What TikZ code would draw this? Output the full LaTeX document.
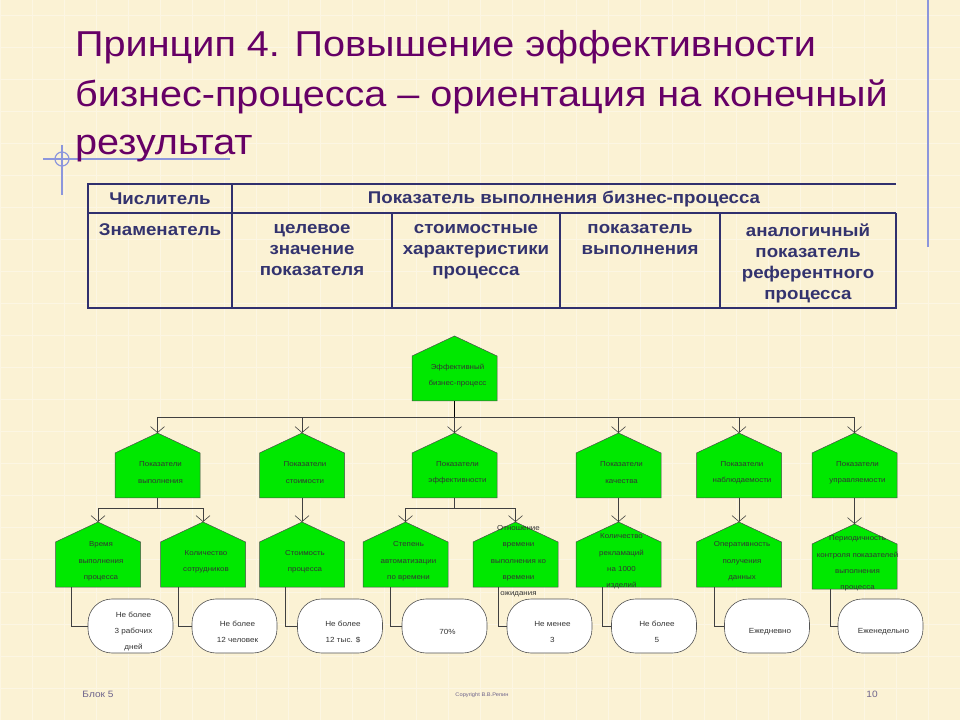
\documentclass[tikz,border=0pt]{standalone}
\usepackage{fontspec}
\setmainfont{Liberation Sans}[FakeStretch=1.1]
\usetikzlibrary{arrows.meta}

\definecolor{slidebg}{RGB}{251,242,212}
\definecolor{titlecol}{RGB}{102,0,102}
\definecolor{tabline}{RGB}{48,48,110}
\definecolor{tabtext}{RGB}{51,51,110}
\definecolor{hgreen}{RGB}{0,232,0}
\definecolor{deco}{RGB}{140,150,220}
\definecolor{footcol}{RGB}{110,100,140}

% house: name, x, y of the bottom edge, text
\newcommand{\HouseNode}[4]{%
	\filldraw[house] (#2-42.5,#3) -- (#2+42.5,#3) -- (#2+42.5,#3+45) -- (#2,#3+65) -- (#2-42.5,#3+45) -- cycle;
	\node[hbody] (#1) at (#2,#3+22.5) {};
	\coordinate (#1t) at (#2,#3+65);
	\node[htext] (#1x) at (#2+3,#3+25.5) {#4};
}
% oval: name, x, text
\newcommand{\TermNode}[3]{%
	\node[term] (#1) at (#2,94) {};
	\node[otext] (#1x) at (#2+3,88) {#3};
}

\begin{document}
\begin{tikzpicture}[x=1pt,y=1pt,
	house/.style={fill=hgreen, draw=gray!60!black, line width=.5pt},
	hbody/.style={rectangle, minimum width=85pt, minimum height=45pt, inner sep=0pt},
	htext/.style={align=center, inner sep=0pt, text=black!80, font=\fontsize{7.2}{16.3}\selectfont},
	term/.style={rectangle, rounded corners=24pt, minimum width=85pt, minimum height=54pt, draw=gray!65!black, fill=white, line width=.6pt},
	otext/.style={align=center, inner sep=0pt, text=black!80, font=\fontsize{7.4}{16}\selectfont},
	link/.style={draw=gray!50!black, line width=.6pt},
	arr/.style={link, -{Straight Barb[length=6pt,width=14pt]}},
	tab/.style={draw=tabline, line width=2.2pt},
	tabtxt/.style={align=center, inner sep=0pt, text=tabtext, font=\fontsize{17}{21}\selectfont\bfseries},
	title/.style={anchor=base west, inner sep=0pt, text=titlecol, font=\fontsize{36}{49}\selectfont},
	foot/.style={inner sep=0pt, text=footcol}]
	%\draw[help lines] (0,0) grid (960,720);
	
	\useasboundingbox (0,0) rectangle (960,720);
	\fill[slidebg] (0,0) rectangle (960,720);
	\draw[white, opacity=.35, line width=1pt, step=32pt] (0,0) grid (960,720);
	
	% decoration
	\draw[deco, line width=1.2pt] (928,720) -- (928,473);
	\draw[deco, line width=1.2pt] (43,561) -- (230,561);
	\draw[deco, line width=1.2pt] (62,575) -- (62,525);
	\draw[deco, line width=1.2pt] (62,561) circle (7);
	
	\node[title] (title1) at (75,663) {Принцип 4. Повышение эффективности};
	\node[title] (title2) at (75,613) {бизнес-процесса – ориентация на конечный};
	\node[title] (title3) at (75,565) {результат};
	
	% table
	\draw[tab] (896,536) -- (88,536) -- (88,412) -- (896,412) -- (896,507);
	\draw[tab] (88,507) -- (896,507);
	\draw[tab] (232,536) -- (232,412);
	\draw[tab] (392,507) -- (392,412);
	\draw[tab] (560,507) -- (560,412);
	\draw[tab] (720,507) -- (720,412);
	
	\node[tabtxt] (tnum) at (160,521) {Числитель};
	\node[tabtxt] (tpok) at (564,521) {Показатель выполнения бизнес-процесса};
	\node[tabtxt, anchor=north] (tden) at (160,497) {Знаменатель};
	\node[tabtxt, anchor=north] (tc1) at (312,496) {целевое\\значение\\показателя};
	\node[tabtxt, anchor=north] (tc2) at (476,496) {стоимостные\\характеристики\\процесса};
	\node[tabtxt, anchor=north] (tc3) at (640,496) {показатель\\выполнения};
	\node[tabtxt, anchor=north] (tc4) at (808,496) {аналогичный\\показатель\\референтного\\процесса};
	
	% tree
	\HouseNode{eff}{454.5}{319}{Эффективный\\бизнес-процесс}
	
	\HouseNode{pv}{157.5}{222}{Показатели\\выполнения}
	\HouseNode{ps}{302}{222}{Показатели\\стоимости}
	\HouseNode{pe}{454.5}{222}{Показатели\\эффективности}
	\HouseNode{pk}{618.5}{222}{Показатели\\качества}
	\HouseNode{pn}{739}{222}{Показатели\\наблюдаемости}
	\HouseNode{pu}{854.5}{222}{Показатели\\управляемости}
	
	\HouseNode{vr}{98}{133}{Время\\выполнения\\процесса}
	\HouseNode{ks}{203}{133}{Количество\\сотрудников}
	\HouseNode{st}{302}{133}{Стоимость\\процесса}
	\HouseNode{sa}{405.5}{133}{Степень\\автоматизации\\по времени}
	\HouseNode{ov}{515.5}{133}{Отношение\\времени\\выполнения ко\\времени\\ожидания}
	\HouseNode{kr}{618.5}{133}{Количество\\рекламаций\\на 1000\\изделий}
	\HouseNode{op}{739}{133}{Оперативность\\получения\\данных}
	\HouseNode{pr}{854.5}{131}{Периодичность\\контроля показателей\\выполнения\\процесса}
	
	\TermNode{o1}{130.5}{Не более\\3 рабочих\\дней}
	\TermNode{o2}{234.5}{Не более\\12 человек}
	\TermNode{o3}{340}{Не более\\12 тыс. \$}
	\TermNode{o4}{444.5}{70\%}
	\TermNode{o5}{549.5}{Не менее\\3}
	\TermNode{o6}{654}{Не более\\5}
	\TermNode{o7}{767}{Ежедневно}
	\TermNode{o8}{880.5}{Еженедельно}
	
	\coordinate (bus0) at (454.5,303);
	\draw[link, draw=black] (eff.south) -- (bus0);
	\draw[arr] (bus0) -| (pvt);
	\draw[arr] (bus0) -| (pst);
	\draw[arr] (bus0) -- (pet);
	\draw[arr] (bus0) -| (pkt);
	\draw[arr] (bus0) -| (pnt);
	\draw[arr] (bus0) -| (put);
	
	\coordinate (bus1) at (157.5,212);
	\draw[link] (pv.south) -- (bus1);
	\draw[arr] (bus1) -| (vrt);
	\draw[arr] (bus1) -| (kst);
	\draw[arr] (ps.south) -- (stt);
	\coordinate (bus3) at (454.5,212);
	\draw[link] (pe.south) -- (bus3);
	\draw[arr] (bus3) -| (sat);
	\draw[arr] (bus3) -| (ovt);
	\draw[arr] (pk.south) -- (krt);
	\draw[arr] (pn.south) -- (opt);
	\draw[arr] (pu.south) -- (prt);
	
	\draw[link] ([xshift=16pt]vr.south west) |- (o1.west);
	\draw[link] ([xshift=18pt]ks.south west) |- (o2.west);
	\draw[link] ([xshift=26pt]st.south west) |- (o3.west);
	\draw[link] ([xshift=27pt]sa.south west) |- (o4.west);
	\draw[link] ([xshift=25pt]ov.south west) |- (o5.west);
	\draw[link] ([xshift=26pt]kr.south west) |- (o6.west);
	\draw[link] ([xshift=18pt]op.south west) |- (o7.west);
	\draw[link] ([xshift=18pt]pr.south west) |- (o8.west);
	
	% footer
	\node[foot, font=\fontsize{9.2}{12}\selectfont] (blok) at (98,26) {Блок 5};
	\node[foot, font=\fontsize{5.2}{7}\selectfont] (copy) at (482,25) {Copyright В.В.Репин};
	\node[foot, font=\fontsize{9.2}{12}\selectfont] (page) at (872,26) {10};
\end{tikzpicture}
\end{document}
